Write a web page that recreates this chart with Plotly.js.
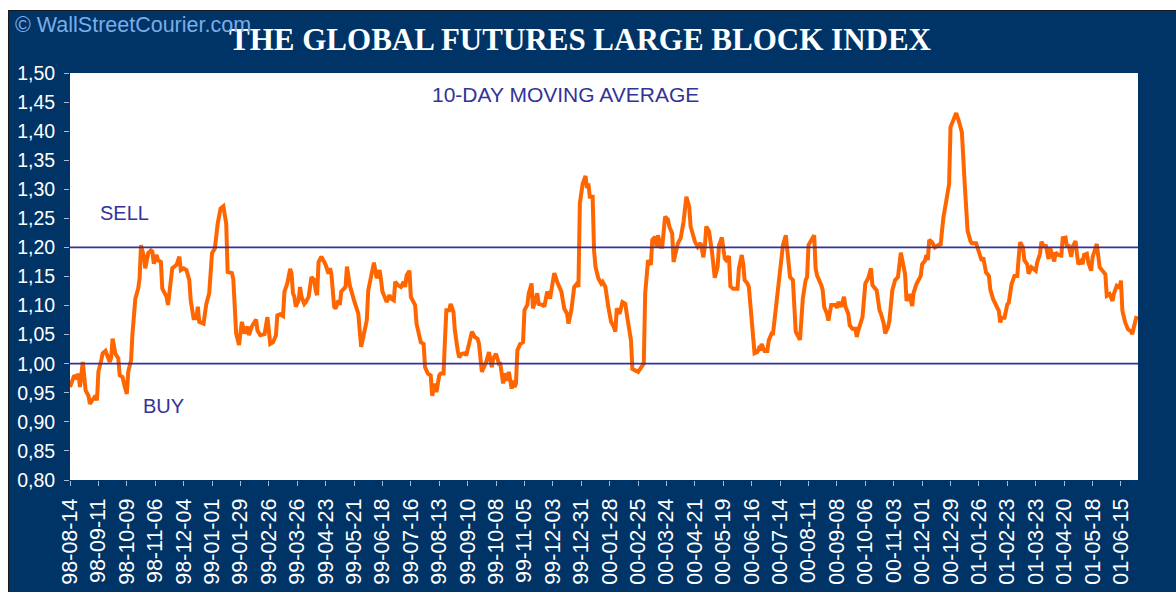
<!DOCTYPE html>
<html>
<head>
<meta charset="utf-8">
<script src="https://cdn.plot.ly/plotly-3.0.1.min.js"></script>
<style>
  html, body { margin: 0; padding: 0; background: #ffffff; width: 1176px; height: 592px; overflow: hidden; }
  #frame { position: absolute; left: 8px; top: 10px; width: 1168px; height: 582px; background: #003366;
           border-top: 1px solid #1a1a1a; border-left: 1px solid #1a1a1a; box-sizing: border-box; }
  #chart { position: absolute; left: 9px; top: 11px; width: 1167px; height: 581px; }
</style>
</head>
<body>
<div id="frame"></div>
<div id="chart"></div>
<script>
// trading-day number (0 = 98-08-14) and 10-day moving average of the index
const tradingDay = [
  0,1,3,5,6,7,9,11,13,14,16,18,19,20,22,23,25,27,28,29,30,32,34,35,37,38,40,41,43,44,46,48,49,50,52,53,55,57,58,59,
  61,62,64,65,68,69,72,75,77,78,80,82,84,85,87,89,90,91,94,96,98,100,102,104,106,108,110,111,114,115,116,117,119,121,
  123,125,126,128,131,132,134,137,139,141,
  143,145,146,148,150,151,153,155,156,157,158,159,161,162,163,165,166,168,170,172,173,174,175,177,179,180,182,183,184,
  186,187,189,190,191,194,195,197,199,200,203,204,205,207,209,210,212,214,216,218,219,220,222,223,225,226,228,229,231,
  233,235,236,237,239,240,243,244,247,249,250,252,254,255,257,258,260,261,263,264,265,267,268,270,271,273,274,276,278,
  279,281,283,285,287,288,290,
  293,295,297,298,300,302,303,305,306,308,309,311,312,313,314,315,317,319,320,322,323,325,326,327,329,330,333,334,336,
  338,340,341,343,345,346,348,350,351,353,355,357,358,359,361,363,364,365,366,368,369,370,372,374,375,377,379,381,383,
  384,385,387,389,391,392,395,396,398,400,404,405,407,409,410,412,413,414,416,417,419,421,422,424,425,427,428,430,432,
  434,436,437,
  440,442,444,446,447,448,450,452,454,456,457,459,460,461,462,464,465,467,470,471,473,474,475,477,478,480,481,482,484,
  485,486,487,489,491,492,494,495,497,498,500,501,502,504,505,506,507,509,510,511,514,515,516,518,519,520,522,524,525,
  526,529,530,531,533,534,536,539,540,541,543,545,546,548,549,551,553,554,555,558,560,562,564,565,567,568,570,571,573,
  574,576,577,579,581,583,585,
  588,589,591,592,593,594,596,599,600,602,603,604,605,607,609,612,613,614,615,617,619,620,622,624,626,628,630,631,632,
  634,635,638,640,642,643,644,645,647,648,650,652,654,655,656,658,660,661,663,665,667,668,669,671,672,674,675,677,679,
  680,681,683,684,686,687,689,690,692,693,694,696,698,699,701,702,703,705,706,708,709,710,712,713,714,716,717,719,720,
  722,723,725,727,729,730,732,734,735,737,739,740,741,743,745,747,748,749,750,751
];
const movingAverage = [
  0.960,0.968,0.980,0.974,0.983,0.960,1.003,0.954,0.945,0.931,0.937,0.945,0.937,0.986,1.006,1.018,1.022,1.011,1.003,1.011,
  1.043,1.017,1.009,0.980,0.977,0.966,0.948,0.986,1.006,1.052,1.112,1.129,1.147,1.204,1.184,1.164,1.190,1.195,1.193,1.172,
  1.187,1.178,1.175,1.129,1.115,1.101,1.164,1.170,1.184,1.161,1.164,1.161,1.144,1.109,1.078,1.078,1.098,1.072,1.069,1.103,
  1.121,1.190,1.198,1.241,1.267,1.271,1.241,1.158,1.156,1.145,1.089,1.052,1.032,1.072,1.052,1.064,1.049,1.064,1.076,1.057,
  1.049,1.051,1.080,1.034,
  1.037,1.049,1.083,1.085,1.082,1.124,1.138,1.163,1.155,1.121,1.115,1.098,1.109,1.132,1.115,1.103,1.106,1.115,1.149,1.144,
  1.126,1.118,1.175,1.184,1.175,1.170,1.155,1.164,1.155,1.098,1.095,1.109,1.101,1.124,1.132,1.167,1.135,1.121,1.109,1.086,
  1.055,1.029,1.052,1.075,1.126,1.147,1.174,1.147,1.161,1.144,1.124,1.112,1.106,1.118,1.112,1.109,1.141,1.135,1.132,1.141,
  1.132,1.152,1.160,1.115,1.101,1.069,1.037,1.034,0.994,0.983,0.980,0.945,0.966,0.951,0.980,0.983,0.983,1.040,1.092,1.092,
  1.103,1.089,1.057,1.023,1.011,1.017,1.018,1.014,1.037,1.055,1.046,1.043,1.034,0.986,
  1.003,1.020,0.994,1.009,1.017,1.000,1.000,0.966,0.983,0.971,0.986,0.957,0.971,0.960,0.966,1.023,1.034,1.037,1.092,1.101,
  1.121,1.138,1.095,1.103,1.121,1.103,1.101,1.098,1.124,1.112,1.138,1.156,1.141,1.132,1.124,1.095,1.086,1.069,1.092,1.132,
  1.138,1.132,1.276,1.310,1.323,1.302,1.310,1.287,1.287,1.195,1.167,1.147,1.138,1.141,1.132,1.098,1.072,1.063,1.055,1.095,
  1.086,1.106,1.103,1.086,1.040,0.991,0.989,0.986,1.000,1.121,1.178,1.170,1.213,1.218,1.201,1.221,1.201,1.201,1.253,1.248,
  1.236,1.224,1.175,1.193,1.207,1.216,1.244,1.287,1.270,1.236,
  1.210,1.201,1.208,1.183,1.201,1.236,1.227,1.193,1.148,1.167,1.204,1.217,1.198,1.181,1.178,1.185,1.133,1.129,1.129,1.164,
  1.187,1.172,1.144,1.138,1.132,1.080,1.046,1.018,1.020,1.026,1.023,1.034,1.022,1.022,1.040,1.052,1.052,1.092,1.126,1.161,
  1.172,1.204,1.221,1.198,1.170,1.149,1.144,1.098,1.055,1.041,1.080,1.112,1.144,1.149,1.204,1.213,1.221,1.164,1.152,1.135,
  1.126,1.098,1.086,1.074,1.101,1.101,1.096,1.106,1.098,1.115,1.098,1.086,1.066,1.060,1.060,1.046,1.057,1.080,1.138,1.147,
  1.164,1.135,1.129,1.126,1.092,1.086,1.069,1.052,1.063,1.075,1.126,1.144,1.149,1.191,
  1.154,1.108,1.120,1.108,1.099,1.122,1.137,1.151,1.171,1.177,1.187,1.178,1.213,1.209,1.200,1.205,1.203,1.229,1.252,1.280,
  1.309,1.407,1.418,1.431,1.416,1.398,1.309,1.263,1.229,1.211,1.207,1.207,1.191,1.177,1.183,1.171,1.157,1.151,1.128,1.111,
  1.102,1.091,1.071,1.079,1.079,1.102,1.105,1.137,1.151,1.151,1.183,1.209,1.200,1.178,1.171,1.155,1.166,1.161,1.160,1.174,
  1.189,1.210,1.200,1.205,1.180,1.200,1.183,1.176,1.191,1.187,1.186,1.216,1.217,1.200,1.205,1.184,1.201,1.211,1.189,1.171,
  1.177,1.171,1.187,1.189,1.174,1.160,1.183,1.200,1.206,1.166,1.160,1.154,1.117,1.120,1.108,1.120,1.134,1.131,1.143,1.091,
  1.071,1.059,1.056,1.051,1.062,1.074,1.082
];
// category-axis labels: every 20th trading day
const tickDays = [0,20,40,60,80,100,120,140,160,180,200,220,240,260,280,300,320,340,360,380,
                  400,420,440,460,480,500,520,540,560,580,600,620,640,660,680,700,720,740];
const tickLabels = ['98-08-14','98-09-11','98-10-09','98-11-06','98-12-04','99-01-01','99-01-29','99-02-26',
  '99-03-26','99-04-23','99-05-21','99-06-18','99-07-16','99-08-13','99-09-10','99-10-08','99-11-05','99-12-03',
  '99-12-31','00-01-28','00-02-25','00-03-24','00-04-21','00-05-19','00-06-16','00-07-14','00-08-11','00-09-08',
  '00-10-06','00-11-03','00-12-01','00-12-29','01-01-26','01-02-23','01-03-23','01-04-20','01-05-18','01-06-15'];
const sellLevel = 1.20;
const buyLevel = 1.00;
const lastDay = 752;

const navyText = '#333399';
const sans = '"Liberation Sans", Arial, sans-serif';

const traces = [{
  x: tradingDay, y: movingAverage, type: 'scatter', mode: 'lines',
  line: { color: '#ff6600', width: 4, shape: 'linear' }, hoverinfo: 'skip'
}];

const layout = {
  width: 1167, height: 581,
  margin: { l: 61, r: 38, t: 61.5, b: 112, pad: 0 },
  paper_bgcolor: '#003366', plot_bgcolor: '#ffffff',
  separators: ',.',
  showlegend: false,
  title: {
    text: '<b>THE GLOBAL FUTURES LARGE BLOCK INDEX</b>',
    font: { family: '"Liberation Serif", "Times New Roman", serif', size: 31, color: '#ffffff' },
    xref: 'container', yref: 'container', x: 0.4893, y: 0.951, xanchor: 'center', yanchor: 'middle'
  },
  xaxis: {
    type: 'linear', range: [0, lastDay], showgrid: false, zeroline: false, showline: false,
    tickmode: 'array', tickvals: tickDays, ticktext: tickLabels, tickangle: -90,
    ticks: 'outside', ticklen: 5, tickwidth: 1, tickcolor: '#a9bcd6', ticklabelstandoff: 4,
    tickfont: { family: sans, size: 21.5, color: '#ffffff' }, fixedrange: true
  },
  yaxis: {
    range: [0.80, 1.50], dtick: 0.05, tick0: 0.80, tickformat: '.2f',
    showgrid: false, zeroline: false, showline: false,
    ticks: 'outside', ticklen: 5, tickwidth: 1, tickcolor: '#a9bcd6', ticklabelstandoff: 5,
    tickfont: { family: sans, size: 19.5, color: '#ffffff' }, fixedrange: true
  },
  shapes: [
    { type: 'line', xref: 'paper', x0: 0, x1: 1, yref: 'y', y0: sellLevel, y1: sellLevel,
      line: { color: navyText, width: 1.8 } },
    { type: 'line', xref: 'paper', x0: 0, x1: 1, yref: 'y', y0: buyLevel, y1: buyLevel,
      line: { color: navyText, width: 1.8 } }
  ],
  annotations: [
    { text: '© WallStreetCourier.com', xref: 'paper', yref: 'paper', x: -0.0535, y: 1.118,
      xanchor: 'left', yanchor: 'middle', showarrow: false,
      font: { family: sans, size: 21.5, color: '#79aee6' } },
    { text: '10-DAY MOVING AVERAGE', xref: 'paper', yref: 'paper', x: 0.4635, y: 0.946,
      xanchor: 'center', yanchor: 'middle', showarrow: false,
      font: { family: sans, size: 21, color: navyText } },
    { text: 'SELL', xref: 'paper', yref: 'paper', x: 0.0506, y: 0.657,
      xanchor: 'center', yanchor: 'middle', showarrow: false,
      font: { family: sans, size: 20, color: navyText } },
    { text: 'BUY', xref: 'paper', yref: 'paper', x: 0.088, y: 0.181,
      xanchor: 'center', yanchor: 'middle', showarrow: false,
      font: { family: sans, size: 20, color: navyText } }
  ]
};

Plotly.newPlot('chart', traces, layout, { staticPlot: true, displayModeBar: false });
</script>
</body>
</html>
